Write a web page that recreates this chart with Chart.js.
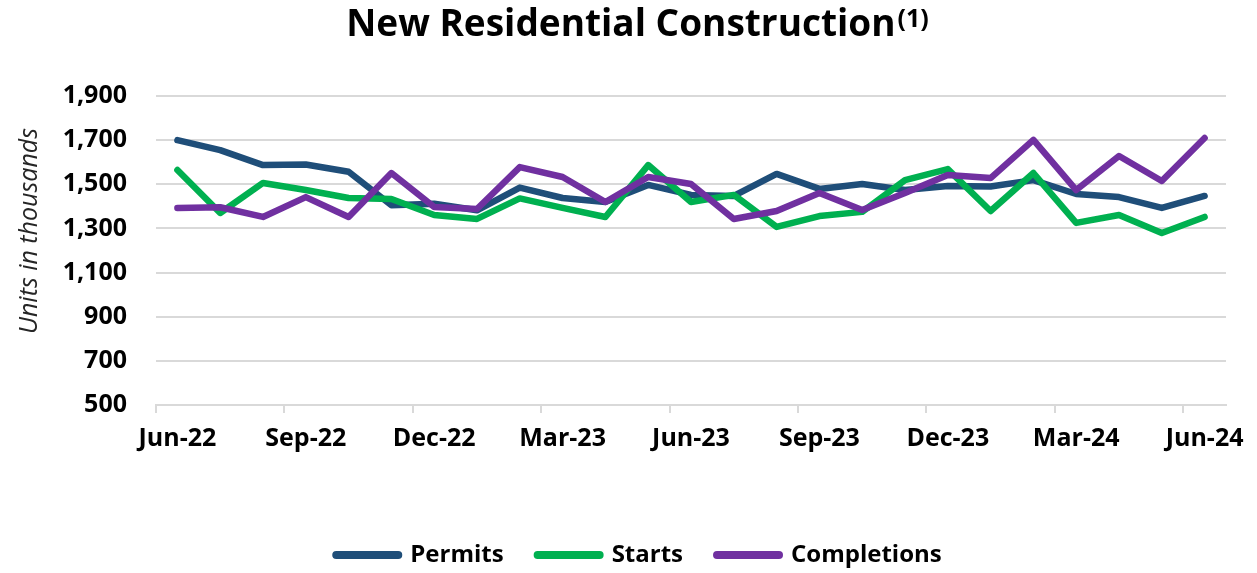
<!DOCTYPE html>
<html>
<head>
<meta charset="utf-8">
<script src="https://cdn.jsdelivr.net/npm/chart.js@4.4.1/dist/chart.umd.min.js"></script>
<style>
html,body{margin:0;padding:0;background:#ffffff;}
#wrap{width:1257px;height:573px;}
</style>
</head>
<body>
<div id="wrap"><canvas id="c" width="1257" height="573"></canvas></div>
<script>
const months = ['Jun-22','Jul-22','Aug-22','Sep-22','Oct-22','Nov-22','Dec-22','Jan-23','Feb-23','Mar-23','Apr-23','May-23','Jun-23','Jul-23','Aug-23','Sep-23','Oct-23','Nov-23','Dec-23','Jan-24','Feb-24','Mar-24','Apr-24','May-24','Jun-24'];
const tickLabels = ['Jun-22','Sep-22','Dec-22','Mar-23','Jun-23','Sep-23','Dec-23','Mar-24','Jun-24'];
const permits = [1700,1655,1587,1590,1557,1405,1412,1382,1485,1438,1420,1497,1452,1447,1547,1479,1501,1474,1492,1490,1519,1456,1442,1393,1447];
const starts = [1565,1370,1506,1474,1438,1433,1361,1343,1436,1393,1352,1587,1420,1452,1307,1356,1375,1519,1569,1379,1551,1325,1361,1279,1352];
const completions = [1393,1396,1352,1442,1352,1551,1397,1388,1578,1533,1420,1533,1501,1343,1379,1461,1383,1461,1542,1528,1701,1474,1628,1515,1710];
const yMin = 500, yMax = 1900, yStep = 200;
const titleText = 'New Residential Construction';
const titleSup = '(1)';
const yTitle = 'Units in thousands';

const FONT = '"Open Sans", "Liberation Sans", sans-serif';

const textPlugin = {
  id: 'textPlugin',
  afterLayout(chart) {
    const lg = chart.legend;
    if (lg) { lg.top += 4; lg.bottom += 4; }
  },
  afterDraw(chart) {
    const ctx = chart.ctx;
    ctx.save();
    ctx.fillStyle = '#000000';
    ctx.textBaseline = 'alphabetic';
    ctx.textAlign = 'left';
    ctx.font = 'bold 37px ' + FONT;
    const w1 = ctx.measureText(titleText).width;
    ctx.font = 'bold 25px ' + FONT;
    const w2 = ctx.measureText(titleSup).width;
    const x0 = chart.width / 2 + 9 - (w1 + w2 + 2) / 2;
    ctx.font = 'bold 37px ' + FONT;
    ctx.fillText(titleText, x0, 36);
    ctx.font = 'bold 25px ' + FONT;
    ctx.fillText(titleSup, x0 + w1 + 2, 27);
    ctx.translate(30, 231);
    ctx.rotate(-Math.PI / 2);
    ctx.textAlign = 'center';
    ctx.textBaseline = 'middle';
    ctx.font = 'italic 25px ' + FONT;
    ctx.fillStyle = '#262626';
    ctx.fillText(yTitle, 0, 0);
    ctx.restore();
  }
};

new Chart(document.getElementById('c'), {
  type: 'line',
  data: {
    labels: months,
    datasets: [
      { label: 'Permits', data: permits, borderColor: '#1f4e79', backgroundColor: '#1f4e79', borderWidth: 6.5, order: 3 },
      { label: 'Starts', data: starts, borderColor: '#00b050', backgroundColor: '#00b050', borderWidth: 6.5, order: 2 },
      { label: 'Completions', data: completions, borderColor: '#7030a0', backgroundColor: '#7030a0', borderWidth: 6.5, order: 1 }
    ]
  },
  options: {
    responsive: false,
    animation: false,
    layout: { padding: { top: 96, right: 31, left: 52, bottom: 0 } },
    elements: {
      line: { tension: 0, borderCapStyle: 'round', borderJoinStyle: 'round', fill: false },
      point: { radius: 0, hoverRadius: 0 }
    },
    plugins: {
      title: { display: false },
      tooltip: { enabled: false },
      legend: {
        position: 'bottom',
        labels: {
          usePointStyle: true,
          pointStyle: 'line',
          pointStyleWidth: 62,
          padding: 34,
          color: '#000000',
          font: { family: FONT, size: 24, weight: 'bold' },
          sort: (a, b) => a.datasetIndex - b.datasetIndex,
          generateLabels: (chart) => {
            const items = Chart.defaults.plugins.legend.labels.generateLabels(chart);
            items.forEach((it) => { it.lineWidth = 8; it.lineCap = 'round'; it.pointStyle = 'line'; });
            return items;
          }
        }
      }
    },
    scales: {
      x: {
        type: 'category',
        offset: true,
        afterFit: (s) => { s.height = 100; },
        grid: {
          display: true,
          offset: true,
          drawOnChartArea: false,
          drawTicks: true,
          tickLength: 8,
          lineWidth: 2,
          color: (c) => (c.index !== undefined && c.index % 3 === 0) ? '#d9d9d9' : 'rgba(0,0,0,0)'
        },
        border: { display: true, color: '#d9d9d9', width: 2 },
        ticks: {
          autoSkip: false,
          maxRotation: 0,
          minRotation: 0,
          padding: 11,
          color: '#000000',
          font: { family: FONT, size: 25, weight: 'bold' },
          callback: function (v, i) { return tickLabels.includes(months[i]) ? months[i] : ''; }
        }
      },
      y: {
        min: yMin,
        max: yMax,
        afterFit: (s) => { s.width = 104; },
        grid: { color: '#d9d9d9', lineWidth: 2, drawTicks: false },
        border: { display: false },
        ticks: {
          stepSize: yStep,
          padding: 29,
          color: '#000000',
          font: { family: FONT, size: 25, weight: 'bold' },
          callback: (v) => v.toLocaleString('en-US')
        }
      }
    }
  },
  plugins: [textPlugin]
});
</script>
</body>
</html>
